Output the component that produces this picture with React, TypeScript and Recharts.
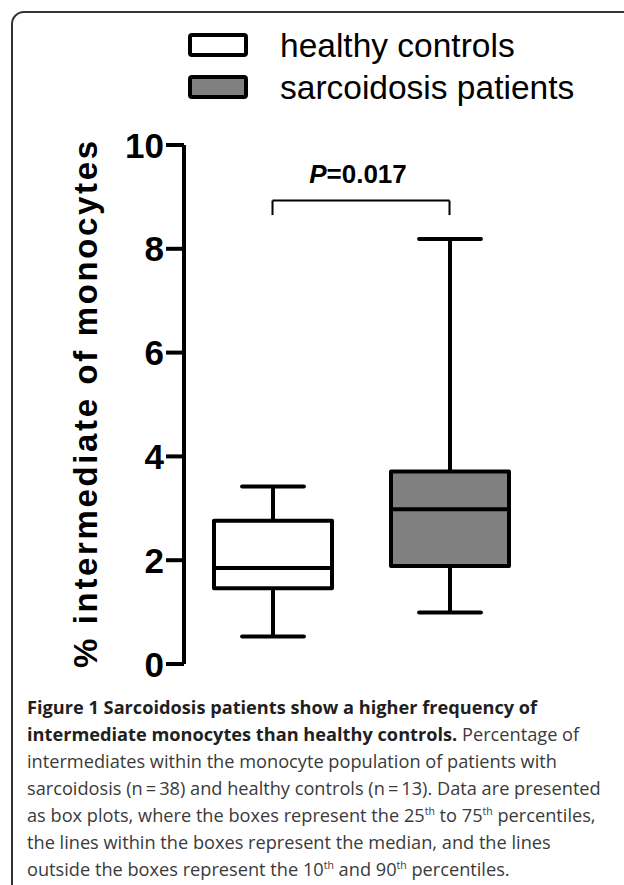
import { Bar, ComposedChart, Label, Legend, ReferenceLine, XAxis, YAxis } from "recharts";

const groups = ["healthy", "sarcoid"];
const whiskerLow = [0.53, 0.99];
const quartile1 = [1.46, 1.89];
const medians = [1.85, 2.98];
const quartile3 = [2.76, 3.71];
const whiskerHigh = [3.42, 8.19];
const boxFills = ["#ffffff", "#808080"];

const yTicks = [0, 2, 4, 6, 8, 10];
const legendLabels = ["healthy controls", "sarcoidosis patients"];
const pValue = "0.017";
const bracketY = 8.93;
const bracketDrop = 8.65;

const data = groups.map((group, i) => ({
  group,
  box: [quartile1[i], quartile3[i]],
  low: whiskerLow[i],
  q1: quartile1[i],
  med: medians[i],
  q3: quartile3[i],
  high: whiskerHigh[i],
  fill: boxFills[i],
}));

const FONT = '"Liberation Sans", Arial, Helvetica, sans-serif';

function BoxShape(props: any) {
  const { x, y, width, height, payload } = props;
  const top = Math.min(y, y + height);
  const h = Math.abs(height);
  // pixels per unit, taken from the bar the scale gave us
  const ppu = h / (payload.q3 - payload.q1);
  const py = (v: number) => top + (payload.q3 - v) * ppu;
  const cx = x + width / 2;
  const half = width * 0.262;
  const s = { stroke: "#000", strokeWidth: 4 };
  return (
    <g>
      <line x1={cx} x2={cx} y1={py(payload.high)} y2={top} {...s} />
      <line x1={cx} x2={cx} y1={top + h} y2={py(payload.low)} {...s} />
      <line x1={cx - half} x2={cx + half} y1={py(payload.high)} y2={py(payload.high)} {...s} strokeLinecap="round" />
      <line x1={cx - half} x2={cx + half} y1={py(payload.low)} y2={py(payload.low)} {...s} strokeLinecap="round" />
      <rect x={x} y={top} width={width} height={h} fill={payload.fill} {...s} strokeLinejoin="round" />
      <line x1={x} x2={x + width} y1={py(payload.med)} y2={py(payload.med)} {...s} />
    </g>
  );
}

const renderTick = (p: any) => (
  <text x={p.x} y={p.y} dy="0.36em" textAnchor="end" fontSize={35} fontWeight="bold" fontFamily={FONT} fill="#000">
    {p.payload.value}
  </text>
);

const renderYLabel = (p: any) => {
  const vb = p.viewBox || {};
  const cy = vb.height ? vb.y + vb.height / 2 : 404;
  const cx = 97;
  return (
    <text
      x={cx}
      y={cy}
      transform={`rotate(-90 ${cx} ${cy})`}
      textAnchor="middle"
      textLength={527}
      lengthAdjust="spacing"
      fontSize={33}
      fontWeight="bold"
      fontFamily={FONT}
      fill="#000"
    >
      % intermediate of monocytes
    </text>
  );
};

const renderPLabel = (p: any) => {
  const vb = p.viewBox || {};
  const cx = vb.x + (vb.width || 0) / 2 - 3;
  return (
    <text x={cx} y={vb.y - 18} textAnchor="middle" fontSize={26} fontWeight="bold" fontFamily={FONT} fill="#000">
      <tspan fontStyle="italic">P</tspan>={pValue}
    </text>
  );
};

const renderLegend = () => (
  <svg width={624} height={110}>
    {legendLabels.map((label, i) => (
      <g key={label}>
        <rect x={190} y={35 + i * 42} width={56} height={20} rx={2} fill={boxFills[i]} stroke="#000" strokeWidth={4} />
        <text x={280} y={57 + i * 42} fontSize={33.5} fontFamily={FONT} fill="#000">
          {label}
        </text>
      </g>
    ))}
  </svg>
);

export default function App() {
  const bold = { fontWeight: 700, color: "#1f1f1f" };
  const sup = { fontSize: 10.5, lineHeight: 0, verticalAlign: "super" as const };
  return (
    <div style={{ position: "relative", width: 624, height: 885, background: "#fff", overflow: "hidden" }}>
      <style>{`body{margin:0}`}</style>
      <svg width={624} height={885} style={{ position: "absolute", left: 0, top: 0 }}>
        <path d="M12 885 V24 A12 12 0 0 1 24 12 H624" fill="none" stroke="#333" strokeWidth={2} />
      </svg>
      <div style={{ position: "absolute", left: 0, top: 0 }}>
        <ComposedChart width={624} height={700} data={data} margin={{ top: 145, right: 86, bottom: 36, left: 0 }}>
          <XAxis
            dataKey="group"
            tick={false}
            tickLine={false}
            height={0}
            axisLine={{ stroke: "#000", strokeWidth: 4 }}
          />
          <YAxis
            type="number"
            domain={[0, 10]}
            ticks={yTicks}
            interval={0}
            width={184}
            tickSize={18}
            tickMargin={2}
            tick={renderTick}
            tickLine={{ stroke: "#000", strokeWidth: 4 }}
            axisLine={{ stroke: "#000", strokeWidth: 4 }}
          >
            <Label content={renderYLabel} />
          </YAxis>
          <Legend
            content={renderLegend}
            layout="horizontal"
            verticalAlign="middle"
            wrapperStyle={{ top: 0, left: 0, width: 624, height: 110 }}
          />
          <Bar dataKey="box" barSize={118} shape={BoxShape} isAnimationActive={false} />
          <ReferenceLine
            segment={[{ x: groups[0], y: bracketY }, { x: groups[1], y: bracketY }]}
            stroke="#000"
            strokeWidth={2}
          >
            <Label content={renderPLabel} />
          </ReferenceLine>
          <ReferenceLine
            segment={[{ x: groups[0], y: bracketY }, { x: groups[0], y: bracketDrop }]}
            stroke="#000"
            strokeWidth={2}
          />
          <ReferenceLine
            segment={[{ x: groups[1], y: bracketY }, { x: groups[1], y: bracketDrop }]}
            stroke="#000"
            strokeWidth={2}
          />
        </ComposedChart>
      </div>
      <div
        style={{
          position: "absolute",
          left: 27,
          top: 694,
          fontFamily: '"Open Sans", sans-serif',
          fontSize: 18.2,
          lineHeight: "27px",
          color: "#3a3a3a",
          whiteSpace: "nowrap",
        }}
      >
        <div style={bold}>Figure 1 Sarcoidosis patients show a higher frequency of</div>
        <div>
          <span style={bold}>intermediate monocytes than healthy controls.</span> Percentage of
        </div>
        <div>intermediates within the monocyte population of patients with</div>
        <div>sarcoidosis (n{"\u2009=\u2009"}38) and healthy controls (n{"\u2009=\u2009"}13). Data are presented</div>
        <div>
          as box plots, where the boxes represent the 25<sup style={sup}>th</sup> to 75<sup style={sup}>th</sup> percentiles,
        </div>
        <div>the lines within the boxes represent the median, and the lines</div>
        <div>
          outside the boxes represent the 10<sup style={sup}>th</sup> and 90<sup style={sup}>th</sup> percentiles.
        </div>
      </div>
    </div>
  );
}
